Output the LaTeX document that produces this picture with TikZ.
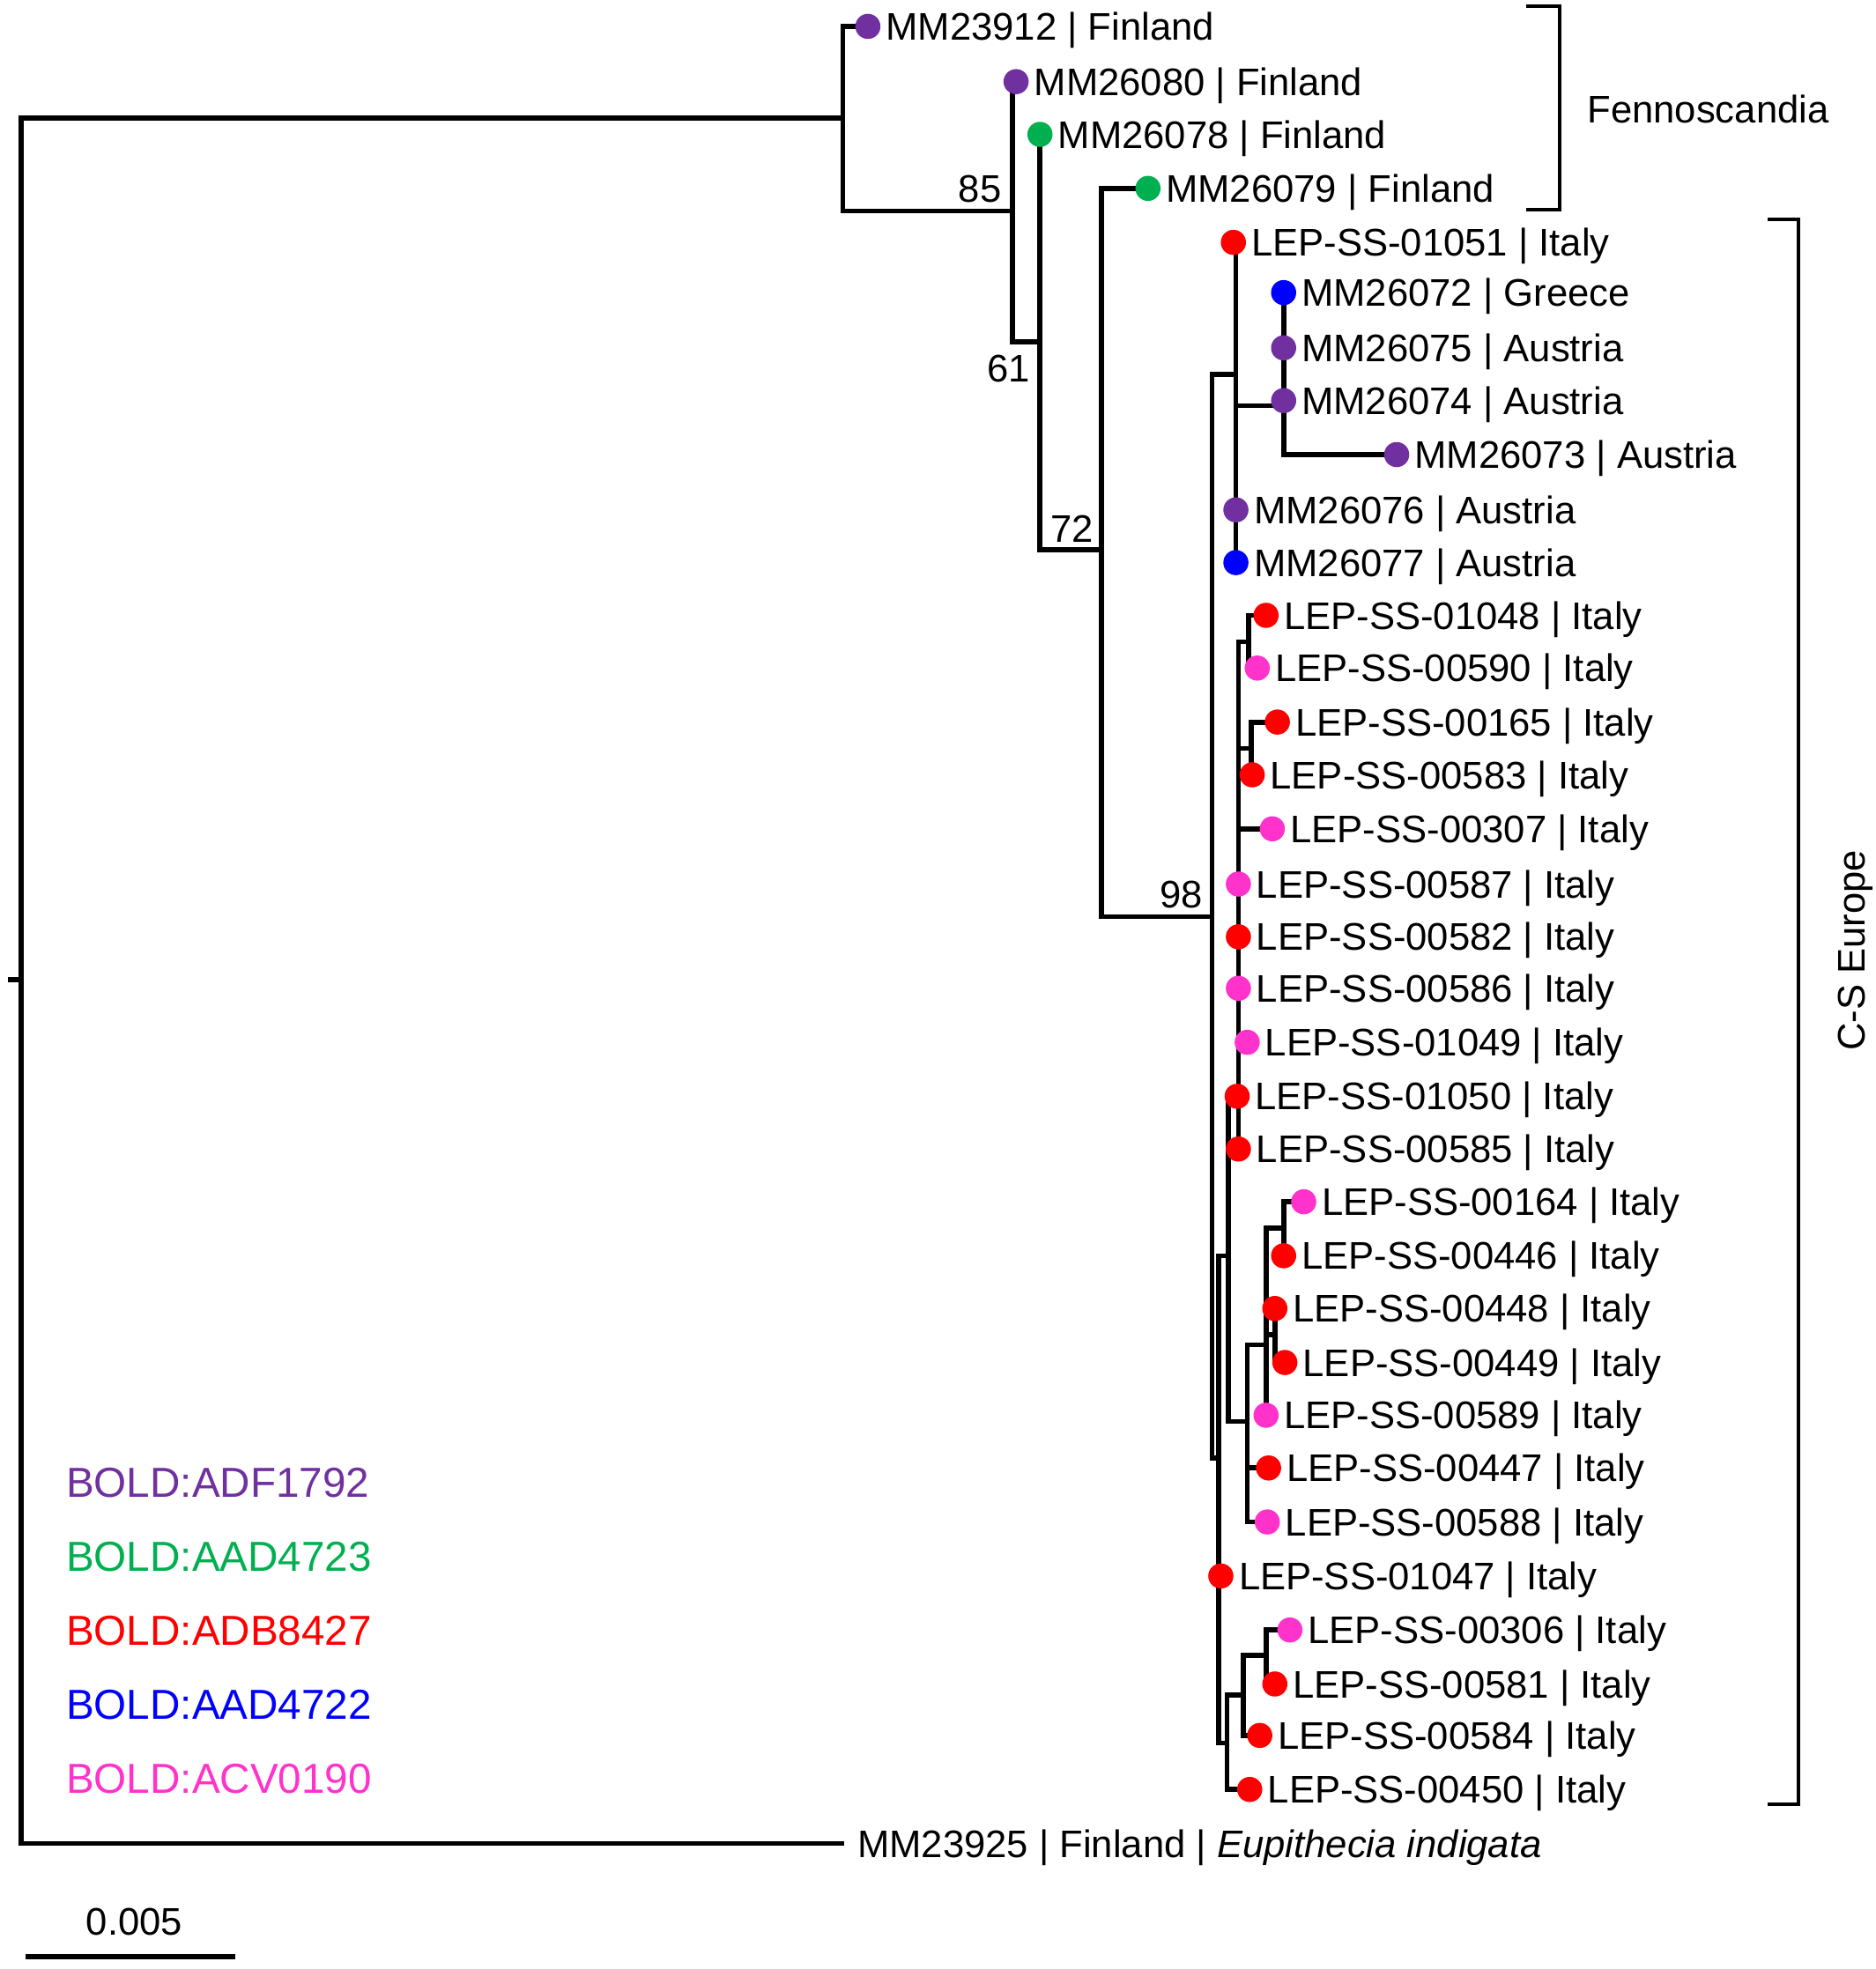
\documentclass[tikz,border=0pt]{standalone}
\usepackage{fontspec}
\setmainfont{Liberation Sans}
\usetikzlibrary{positioning,backgrounds,calc}

\definecolor{boldpurple}{HTML}{7030A0}
\definecolor{boldgreen}{HTML}{00B050}
\definecolor{boldred}{HTML}{FF0000}
\definecolor{boldblue}{HTML}{0000FF}
\definecolor{boldpink}{HTML}{FF33CC}

\tikzset{
  branch/.style={line width=1.15pt},
  dotnode/.style={circle, inner sep=0pt, minimum size=0.2cm},
  taxon/.style={inner sep=0pt, font=\fontsize{8.7}{10}\selectfont, text height=6.2pt, text depth=0pt},
  bootval/.style={taxon, anchor=east},
  binlabel/.style={inner sep=0pt, font=\fontsize{9.5}{11}\selectfont, text height=6.8pt, text depth=0pt, anchor=west},
  bracketline/.style={line width=0.8pt}
}

\begin{document}
\begin{tikzpicture}[x=0.01cm, y=-0.01cm]
    \useasboundingbox (0,0) rectangle (1493,1568);
    % tips of the tree
    \foreach \id/\x/\y/\col/\txt in {
        23912/691/21/boldpurple/MM23912 | Finland,
        26080/809/65/boldpurple/MM26080 | Finland,
        26078/828/107/boldgreen/MM26078 | Finland,
        26079/914/150/boldgreen/MM26079 | Finland,
        01051/982/193/boldred/LEP-SS-01051 | Italy,
        26072/1022/233/boldblue/MM26072 | Greece,
        26075/1022/277/boldpurple/MM26075 | Austria,
        26074/1022/319/boldpurple/MM26074 | Austria,
        26073/1112/362/boldpurple/MM26073 | Austria,
        26076/984/406/boldpurple/MM26076 | Austria,
        26077/984/448/boldblue/MM26077 | Austria,
        01048/1008/490/boldred/LEP-SS-01048 | Italy,
        00590/1001/532/boldpink/LEP-SS-00590 | Italy,
        00165/1017/575/boldred/LEP-SS-00165 | Italy,
        00583/997/617/boldred/LEP-SS-00583 | Italy,
        00307/1013/660/boldpink/LEP-SS-00307 | Italy,
        00587/986/704/boldpink/LEP-SS-00587 | Italy,
        00582/986/746/boldred/LEP-SS-00582 | Italy,
        00586/986/787/boldpink/LEP-SS-00586 | Italy,
        01049/993/830/boldpink/LEP-SS-01049 | Italy,
        01050/985/873/boldred/LEP-SS-01050 | Italy,
        00585/986/915/boldred/LEP-SS-00585 | Italy,
        00164/1038/957/boldpink/LEP-SS-00164 | Italy,
        00446/1022/1000/boldred/LEP-SS-00446 | Italy,
        00448/1015/1042/boldred/LEP-SS-00448 | Italy,
        00449/1023/1085/boldred/LEP-SS-00449 | Italy,
        00589/1008/1127/boldpink/LEP-SS-00589 | Italy,
        00447/1010/1169/boldred/LEP-SS-00447 | Italy,
        00588/1009/1212/boldpink/LEP-SS-00588 | Italy,
        01047/972/1255/boldred/LEP-SS-01047 | Italy,
        00306/1027/1298/boldpink/LEP-SS-00306 | Italy,
        00581/1015/1341/boldred/LEP-SS-00581 | Italy,
        00584/1003/1382/boldred/LEP-SS-00584 | Italy,
        00450/995/1425/boldred/LEP-SS-00450 | Italy} {
        \node[dotnode, fill=\col] (l\id) at (\x,\y) {};
        \node[taxon, right=0.03cm of l\id] (t\id) {\txt};
    }
    \coordinate (l23925) at (672,1468);
    \node[taxon, right=0.1cm of l23925] (t23925) {MM23925 | Finland | \textit{Eupithecia indigata}};

    % inner nodes
    \coordinate (stem) at (6,780);
    \coordinate (root) at (17,780);
    \coordinate (nA) at (671,94);
    \coordinate (n85) at (806,168);
    \coordinate (n61) at (828,272);
    \coordinate (n72) at (877,438);
    \coordinate (n98) at (965,730);
    \coordinate (nH) at (984,298);
    \coordinate (nG) at (1022,323);
    \coordinate (nM) at (970,1161);
    \coordinate (nZ) at (978,1000);
    \coordinate (nL) at (986,879);
    \coordinate (nI) at (994,511);
    \coordinate (nJ) at (996,596);
    \coordinate (nY) at (993,1132);
    \coordinate (nX) at (1008,1071);
    \coordinate (nX1) at (1022,978);
    \coordinate (nX2) at (1015,1063);
    \coordinate (nN) at (977,1388);
    \coordinate (nO) at (990,1350);
    \coordinate (nP) at (1008,1318);

    \begin{scope}[on background layer]
        \draw[branch] (stem) -- (root);
        \foreach \p/\c in {
            root/nA, root/l23925,
            nA/l23912, nA/n85,
            n85/l26080, n85/n61,
            n61/l26078, n61/n72,
            n72/l26079, n72/n98,
            n98/nH, n98/nM,
            nH/l01051, nH/nG, nH/l26076, nH/l26077,
            nG/l26072, nG/l26075, nG/l26074, nG/l26073,
            nM/nZ, nM/l01047, nM/nN,
            nZ/nL, nZ/nY,
            nL/nI, nL/nJ, nL/l00307, nL/l00587, nL/l00582, nL/l00586,
            nL/l01049, nL/l01050, nL/l00585,
            nI/l01048, nI/l00590,
            nJ/l00165, nJ/l00583,
            nY/nX, nY/l00447, nY/l00588,
            nX/nX1, nX/nX2, nX/l00589,
            nX1/l00164, nX1/l00446,
            nX2/l00448, nX2/l00449,
            nN/nO, nN/l00450,
            nO/nP, nO/l00584,
            nP/l00306, nP/l00581} {
            \draw[branch] (\p) |- (\c.center);
        }
    \end{scope}

    % bootstrap values
    \node[bootval] (b85) at ($(n85)+(-8,-18)$) {85};
    \node[bootval] (b61) at ($(n61)+(-7,21)$) {61};
    \node[bootval] (b72) at ($(n72)+(-6,-17)$) {72};
    \node[bootval] (b98) at ($(n98)+(-7,-18)$) {98};

    % regions
    \draw[bracketline] (1215,5) -| (1242,167) -- (1215,167);
    \node[taxon] (fenno) at (1360,87) {Fennoscandia};
    \draw[bracketline] (1407,175) -| (1432,1437) -- (1407,1437);
    \node[taxon, rotate=90] (cseur) at (1474,757) {C-S Europe};

    % BINs
    \foreach \i/\col/\txt in {
        0/boldpurple/BOLD:ADF1792,
        1/boldgreen/BOLD:AAD4723,
        2/boldred/BOLD:ADB8427,
        3/boldblue/BOLD:AAD4722,
        4/boldpink/BOLD:ACV0190} {
        \node[binlabel, text=\col] (bin\i) at (52,{1180+59*\i}) {\txt};
    }

    % scale bar
    \coordinate (sbl) at (20,1558);
    \coordinate (sbr) at (187,1558);
    \draw[line width=1.3pt] (sbl) -- (sbr);
    \node[taxon] (sblab) at (107,1530) {0.005};
\end{tikzpicture}
\end{document}
